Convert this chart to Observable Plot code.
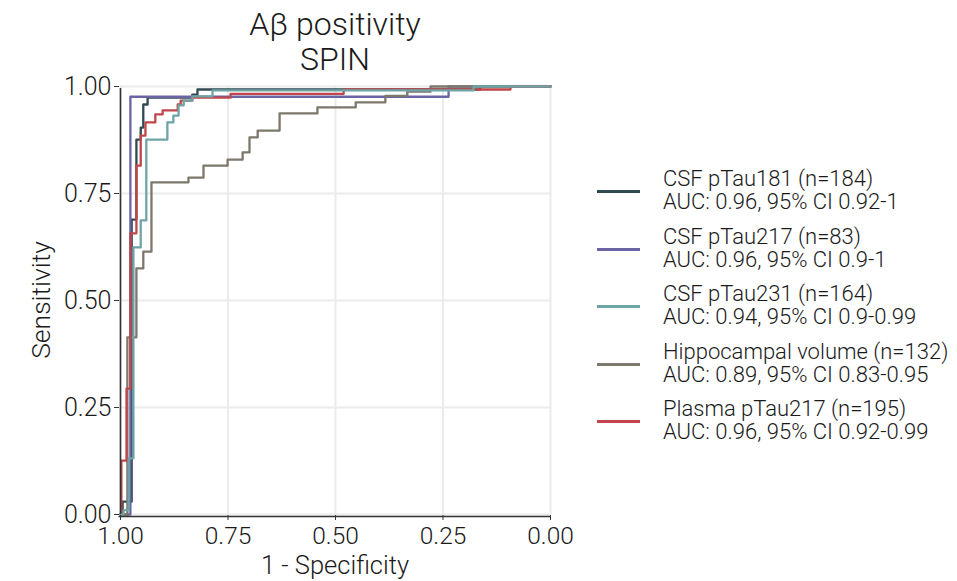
<!DOCTYPE html>
<html>
<head>
<meta charset="utf-8">
<script src="https://cdn.jsdelivr.net/npm/d3@7"></script>
<script src="https://cdn.jsdelivr.net/npm/@observablehq/plot@0.6"></script>
<style>
  html, body { margin: 0; padding: 0; background: #fff; }
  #wrap { position: relative; width: 957px; height: 581px;
          font-family: Roboto, "Liberation Sans", sans-serif; font-weight: 300; color: #1a1a1a; }
  #chart { position: absolute; left: 0; top: 0; }
  .title { position: absolute; left: 135px; width: 400px; text-align: center; font-size: 32px; line-height: 35px; }
  .axlab { position: absolute; font-size: 25.5px; line-height: 20px; }
  #legend { position: absolute; left: 597px; top: 168px; }
  .item { position: relative; height: 57.5px; }
  .sw { position: absolute; left: 0; top: 22px; width: 43px; height: 3px; }
  .txt { position: absolute; left: 66px; top: -1px; font-size: 22px; line-height: 23px; white-space: nowrap; }
</style>
</head>
<body>
<div id="wrap">
  <div id="chart"></div>
  <div class="title" style="top:7px">Aβ positivity</div>
  <div class="title" style="top:42px">SPIN</div>
  <div class="axlab" style="left:0; width:670px; text-align:center; top:555px;">1 - Specificity</div>
  <div class="axlab" style="left:40px; top:300px; transform: translate(-50%,-50%) rotate(-90deg); white-space:nowrap; font-size:26.5px; line-height:27px;">Sensitivity</div>
  <div id="legend"></div>
</div>
<script>
// ---- data ----
const seriesNames = ["CSF pTau181", "CSF pTau217", "CSF pTau231", "Hippocampal volume", "Plasma pTau217"];
const seriesN = [184, 83, 164, 132, 195];
const seriesAUC = ["0.96, 95% CI 0.92-1", "0.96, 95% CI 0.9-1", "0.94, 95% CI 0.9-0.99", "0.89, 95% CI 0.83-0.95", "0.96, 95% CI 0.92-0.99"];
const seriesColors = ["#2f4a50", "#6a64a4", "#6ea4a6", "#7e776b", "#c0464b"];
const xTicks = [1, 0.75, 0.5, 0.25, 0];
const yTicks = [0, 0.25, 0.5, 0.75, 1];

// ROC vertices: [specificity, sensitivity]
const rocCSF181 = [[1,0],[0.995,0],[0.995,0.03],[0.974,0.03],[0.974,0.689],[0.963,0.689],[0.963,0.876],[0.953,0.876],[0.953,0.904],[0.947,0.904],[0.947,0.958],[0.937,0.958],[0.937,0.974],[0.833,0.974],[0.833,0.981],[0.821,0.981],[0.821,0.993],[0.163,0.993],[0.163,1],[0,1]];
const rocCSF217 = [[1,0],[0.977,0],[0.977,0.976],[0.237,0.976],[0.237,1],[0,1]];
const rocCSF231 = [[1,0],[0.993,0],[0.993,0.01],[0.981,0.01],[0.981,0.131],[0.970,0.131],[0.970,0.624],[0.953,0.624],[0.953,0.687],[0.940,0.687],[0.940,0.876],[0.891,0.876],[0.891,0.916],[0.877,0.916],[0.877,0.932],[0.865,0.932],[0.865,0.956],[0.853,0.956],[0.853,0.967],[0.833,0.967],[0.833,0.977],[0.786,0.977],[0.786,0.991],[0.179,0.991],[0.179,1],[0,1]];
const rocHippo = [[1,0],[0.984,0],[0.984,0.414],[0.963,0.414],[0.963,0.575],[0.947,0.575],[0.947,0.614],[0.928,0.614],[0.928,0.776],[0.842,0.776],[0.842,0.787],[0.807,0.787],[0.807,0.815],[0.751,0.815],[0.751,0.829],[0.716,0.829],[0.716,0.846],[0.700,0.846],[0.700,0.881],[0.681,0.881],[0.681,0.897],[0.630,0.897],[0.630,0.937],[0.542,0.937],[0.542,0.951],[0.453,0.951],[0.453,0.963],[0.384,0.963],[0.384,0.978],[0.333,0.978],[0.333,0.988],[0.279,0.988],[0.279,1],[0,1]];
const rocPlasma = [[1,0],[0.998,0],[0.998,0.126],[0.986,0.126],[0.986,0.294],[0.977,0.294],[0.977,0.657],[0.963,0.657],[0.963,0.815],[0.953,0.815],[0.953,0.885],[0.942,0.885],[0.942,0.916],[0.919,0.916],[0.919,0.935],[0.902,0.935],[0.902,0.944],[0.867,0.944],[0.867,0.958],[0.860,0.958],[0.860,0.967],[0.833,0.967],[0.833,0.974],[0.744,0.974],[0.744,0.983],[0.481,0.983],[0.481,0.993],[0.093,0.993],[0.093,1],[0,1]];

const curves = [rocCSF181, rocCSF217, rocCSF231, rocHippo, rocPlasma];
const drawOrder = [0, 1, 3, 4, 2];
const rows = [];
drawOrder.forEach(i => curves[i].forEach(([spec, sens]) => rows.push({series: seriesNames[i], spec, sens})));

const chart = Plot.plot({
  width: 580,
  height: 581,
  marginLeft: 120,
  marginRight: 30,
  marginTop: 86,
  marginBottom: 67,
  style: {fontFamily: "Roboto, 'Liberation Sans', sans-serif", fontWeight: 300, fontSize: "24px", color: "#1a1a1a", background: "#fff"},
  x: {domain: [1, 0], ticks: xTicks},
  y: {domain: [0, 1], ticks: yTicks},
  color: {domain: seriesNames, range: seriesColors},
  marks: [
    Plot.gridX(xTicks, {stroke: "#ebebeb", strokeOpacity: 1, strokeWidth: 2}),
    Plot.gridY(yTicks, {stroke: "#ebebeb", strokeOpacity: 1, strokeWidth: 2}),
    Plot.line(rows, {x: "spec", y: "sens", z: "series", stroke: "series", strokeWidth: 2.3, curve: "linear"}),
    Plot.ruleX([1], {stroke: "#333", strokeWidth: 1.6, y1: 0, y2: 1, insetBottom: -2}),
    Plot.ruleY([0], {stroke: "#333", strokeWidth: 1.6, x1: 1, x2: 0, insetLeft: -1.5, dy: 2}),
    Plot.axisX(xTicks, {tickFormat: d3.format(".2f"), tickSize: 5, tickPadding: 6, label: null, stroke: "#333", fontSize: 24.5, dy: 1}),
    Plot.axisY(yTicks, {tickFormat: d3.format(".2f"), tickSize: 5, tickPadding: 3, label: null, stroke: "#333", fontSize: 25, dx: -1})
  ]
});
document.getElementById("chart").appendChild(chart);

const legend = document.getElementById("legend");
seriesNames.forEach((name, i) => {
  const item = document.createElement("div");
  item.className = "item";
  const sw = document.createElement("div");
  sw.className = "sw";
  sw.style.background = seriesColors[i];
  const txt = document.createElement("div");
  txt.className = "txt";
  txt.innerHTML = `${name} (n=${seriesN[i]})<br>AUC: ${seriesAUC[i]}`;
  item.appendChild(sw);
  item.appendChild(txt);
  legend.appendChild(item);
});
</script>
</body>
</html>
